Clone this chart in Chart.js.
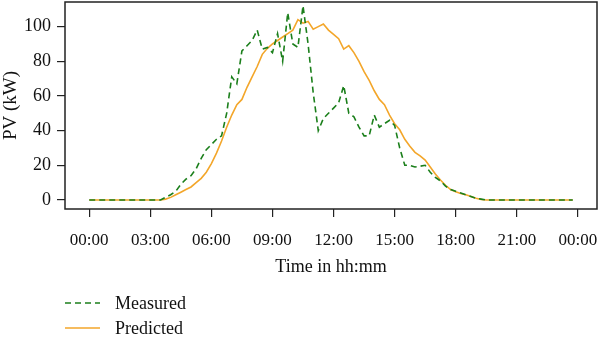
<!DOCTYPE html>
<html>
<head>
<meta charset="utf-8">
<title>PV output</title>
<script src="https://cdn.jsdelivr.net/npm/chart.js@4.4.1/dist/chart.umd.min.js"></script>
<style>
  html, body { margin: 0; padding: 0; background: #fff; }
  #wrap { width: 600px; height: 340px; position: relative; }
  canvas { display: block; }
</style>
</head>
<body>
<div id="wrap"><canvas id="pvChart"></canvas></div>
<script>
// 15-minute samples over one day, in kW
const sampleStep = 0.25; // hours
const measured = [
  0, 0, 0, 0, 0, 0, 0, 0, 0, 0, 0, 0, 0, 0, 0, 1.5,
  3, 5, 9, 12, 14, 18, 24, 29, 32, 35, 37, 50, 71, 67, 86, 89,
  92, 98, 87, 88, 85, 96, 80, 108, 90, 88, 112, 90, 62, 40, 47, 50,
  53, 56, 66, 50, 48, 42, 37, 37, 49, 42, 44, 46, 43, 30, 20, 20,
  19, 19.5, 20, 16, 13, 11, 8, 6, 5, 4, 3, 2, 1, 0.5, 0, 0,
  0, 0, 0, 0, 0, 0, 0, 0, 0, 0, 0, 0, 0, 0, 0, 0
];
const predicted = [
  0, 0, 0, 0, 0, 0, 0, 0, 0, 0, 0, 0, 0, 0, 0, 0.5,
  1.5, 3, 4.5, 6, 7.5, 10, 12.5, 16, 21, 27, 34, 42, 49, 55, 58, 65,
  71, 77, 84, 87.5, 90, 92, 94, 96, 98, 104, 102, 103, 98.5, 100, 101.5, 98,
  95.5, 93, 87, 89, 85, 80, 74, 69, 63, 58, 55, 49, 44, 40.5, 35, 31,
  27.5, 25.5, 23, 19, 15, 11.5, 8.5, 6, 4.8, 3.8, 3, 2, 1, 0.3, 0, 0,
  0, 0, 0, 0, 0, 0, 0, 0, 0, 0, 0, 0, 0, 0, 0, 0
];
const seriesNames = ['Measured', 'Predicted'];
const hourTicks = [0, 3, 6, 9, 12, 15, 18, 21, 24];
const kwTicks = [0, 20, 40, 60, 80, 100];

const fontFamily = '"Liberation Serif", "DejaVu Serif", serif';
const textColor = '#111';

// Plot box edges on the canvas
const plotTop = 2;
const plotBottom = 209;
const plotLeft = 65;
const plotRight = 597;

function toPoints(values) {
  return values.map((v, i) => ({ x: i * sampleStep, y: v }));
}

function formatHour(h) {
  const hh = Math.floor(h) % 24;
  return String(hh).padStart(2, '0') + ':00';
}

// Box around the plotting area
const framePlugin = {
  id: 'frame',
  afterDraw(chart) {
    const x = chart.scales.x, y = chart.scales.y;
    const ctx = chart.ctx;
    ctx.save();
    ctx.strokeStyle = '#222';
    ctx.lineWidth = 1.5;
    ctx.strokeRect(x.left, y.top, x.right - x.left, y.bottom - y.top);
    ctx.restore();
  }
};

// Stacked legend under the x axis title
const stackedLegend = {
  id: 'stackedLegend',
  afterDraw(chart) {
    const ctx = chart.ctx;
    ctx.save();
    ctx.font = '18px ' + fontFamily;
    ctx.textBaseline = 'middle';
    chart.data.datasets.forEach((ds, i) => {
      const y = 303 + i * 25;
      ctx.strokeStyle = ds.borderColor;
      ctx.lineWidth = ds.borderWidth;
      ctx.setLineDash(ds.borderDash || []);
      ctx.beginPath();
      ctx.moveTo(65, y);
      ctx.lineTo(100, y);
      ctx.stroke();
      ctx.setLineDash([]);
      ctx.fillStyle = textColor;
      ctx.fillText(ds.label, 115, y + 1);
    });
    ctx.restore();
  }
};

// Keep the plot area exactly where the axes put it
function noEdgePadding(scale) {
  scale.paddingTop = 0;
  scale.paddingBottom = 0;
  scale.paddingLeft = 0;
  scale.paddingRight = 0;
}

const ctx = document.getElementById('pvChart').getContext('2d');
const pvChart = new Chart(ctx, {
  type: 'line',
  data: {
    datasets: [
      {
        label: seriesNames[0],
        data: toPoints(measured),
        borderColor: '#1b7f1b',
        borderWidth: 1.6,
        borderDash: [6, 4],
        pointRadius: 0,
        tension: 0,
        fill: false
      },
      {
        label: seriesNames[1],
        data: toPoints(predicted),
        borderColor: '#f3a62a',
        borderWidth: 1.6,
        pointRadius: 0,
        tension: 0,
        fill: false
      }
    ]
  },
  options: {
    responsive: true,
    maintainAspectRatio: false,
    animation: false,
    layout: { padding: { top: plotTop, right: 600 - plotRight, bottom: 60, left: 0 } },
    plugins: {
      legend: { display: false },
      tooltip: { enabled: false }
    },
    scales: {
      x: {
        type: 'linear',
        min: -1.19,
        max: 24.94,
        afterFit: (scale) => { scale.height = 340 - 60 - plotBottom; noEdgePadding(scale); },
        afterBuildTicks: (scale) => { scale.ticks = hourTicks.map(v => ({ value: v })); },
        border: { display: false },
        grid: { drawOnChartArea: false, drawTicks: true, tickLength: 8, color: '#222', lineWidth: 1.2 },
        ticks: {
          color: textColor,
          font: { family: fontFamily, size: 17 },
          padding: 13,
          maxRotation: 0,
          autoSkip: false,
          callback: (v) => formatHour(v)
        },
        title: {
          display: true,
          text: 'Time in hh:mm',
          color: textColor,
          font: { family: fontFamily, size: 18 },
          padding: { top: 2, bottom: 2 }
        }
      },
      y: {
        min: -5.2,
        max: 114.2,
        afterFit: (scale) => { scale.width = plotLeft; noEdgePadding(scale); },
        afterBuildTicks: (scale) => { scale.ticks = kwTicks.map(v => ({ value: v })); },
        border: { display: false },
        grid: { drawOnChartArea: false, drawTicks: true, tickLength: 8, color: '#222', lineWidth: 1.2 },
        ticks: {
          color: textColor,
          font: { family: fontFamily, size: 18 },
          padding: 6
        },
        title: {
          display: true,
          text: 'PV (kW)',
          color: textColor,
          font: { family: fontFamily, size: 19 },
          padding: { top: 0, bottom: 2 }
        }
      }
    }
  },
  plugins: [framePlugin, stackedLegend]
});
</script>
</body>
</html>
